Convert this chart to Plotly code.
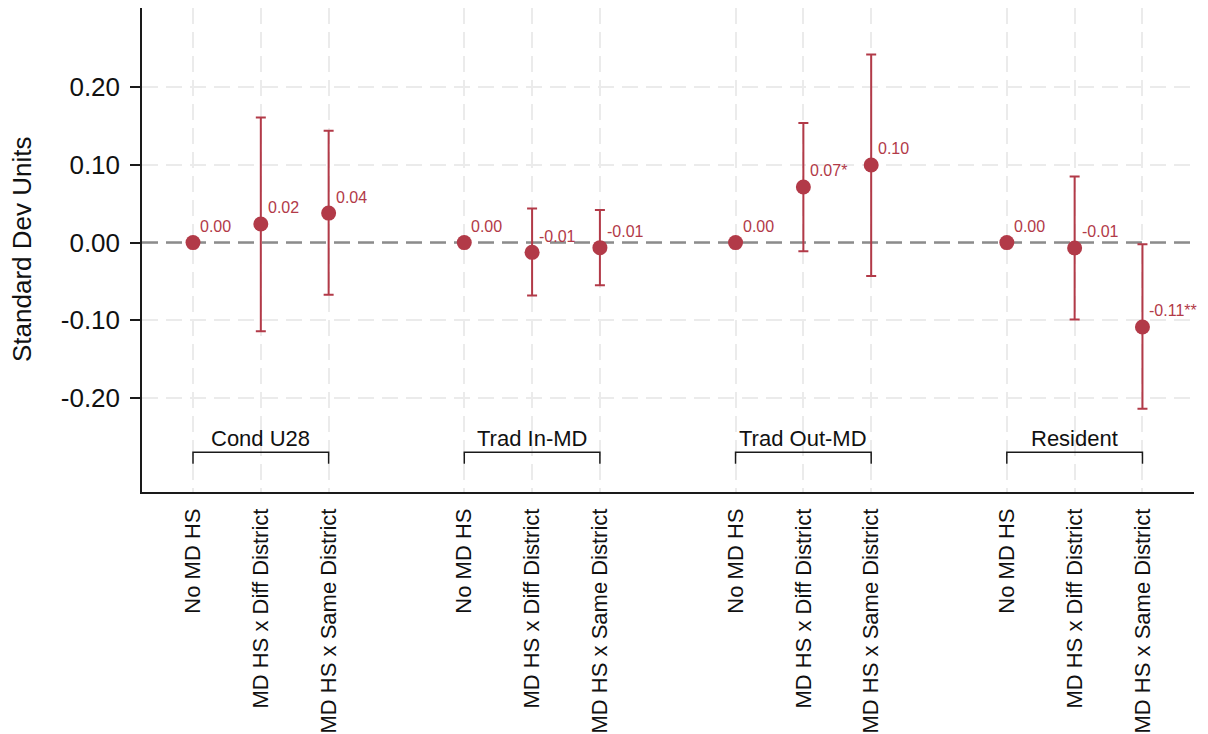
import plotly.graph_objects as go

# Coefficient estimates with 95% confidence intervals, by sample and high-school category
groups = ["Cond U28", "Trad In-MD", "Trad Out-MD", "Resident"]
categories = ["No MD HS", "MD HS x Diff District", "MD HS x Same District"]
x_pos = [1, 2, 3, 5, 6, 7, 9, 10, 11, 13, 14, 15]
estimates = [0.0, 0.024, 0.038, 0.0, -0.0125, -0.0065, 0.0, 0.0716, 0.100, 0.0, -0.0069, -0.1086]
ci_low = [0.0, -0.114, -0.067, 0.0, -0.068, -0.055, 0.0, -0.011, -0.043, 0.0, -0.099, -0.214]
ci_high = [0.0, 0.161, 0.144, 0.0, 0.044, 0.042, 0.0, 0.154, 0.242, 0.0, 0.085, -0.002]
value_labels = ["0.00", "0.02", "0.04", "0.00", "-0.01", "-0.01",
                "0.00", "0.07*", "0.10", "0.00", "-0.01", "-0.11**"]
y_ticks = [-0.2, -0.1, 0.0, 0.1, 0.2]
y_tick_labels = ["-0.20", "-0.10", "0.00", "0.10", "0.20"]

X_RANGE = [0.248, 15.76]
Y_RANGE = [-0.321, 0.302]

RED = "#b23a48"
FONT = "Liberation Sans, Arial, sans-serif"

tick_text = categories * len(groups)

fig = go.Figure()

# dashed reference line at zero
fig.add_trace(go.Scatter(
    x=X_RANGE, y=[0, 0], mode="lines",
    line=dict(color="#8c8c8c", width=2.5, dash="16px,8px"),
    showlegend=False, hoverinfo="skip",
))

fig.add_trace(go.Scatter(
    x=x_pos,
    y=estimates,
    mode="markers",
    marker=dict(color=RED, size=15),
    error_y=dict(
        type="data",
        symmetric=False,
        array=[h - e for h, e in zip(ci_high, estimates)],
        arrayminus=[e - l for e, l in zip(estimates, ci_low)],
        color=RED,
        thickness=2,
        width=5,
    ),
    showlegend=False,
    hoverinfo="skip",
))

annotations = []
# value labels next to each point
for x, y, t in zip(x_pos, estimates, value_labels):
    annotations.append(dict(
        x=x, y=y, text=t, showarrow=False,
        xanchor="left", yanchor="middle", xshift=5, yshift=16,
        font=dict(family=FONT, size=16, color=RED),
    ))

shapes = []
# group brackets beneath the points
n = len(categories)
for i, g in enumerate(groups):
    xs = x_pos[i * n:(i + 1) * n]
    x0, x1 = xs[0], xs[-1]
    shapes.append(dict(
        type="path",
        path=f"M {x0} -0.2846 L {x0} -0.2699 L {x1} -0.2699 L {x1} -0.2846",
        xref="x", yref="y",
        line=dict(color="#1a1a1a", width=1.5), layer="above",
    ))
    annotations.append(dict(
        x=(x0 + x1) / 2, y=-0.2515, text=g, showarrow=False,
        xanchor="center", yanchor="middle",
        font=dict(family=FONT, size=22, color="#111111"),
    ))

# y-axis title
annotations.append(dict(
    xref="paper", yref="paper", x=0, y=0.5, xshift=-120,
    text="Standard Dev Units", textangle=-90, showarrow=False,
    xanchor="center", yanchor="middle",
    font=dict(family=FONT, size=26, color="#111111"),
))

fig.update_layout(
    width=1208,
    height=734,
    margin=dict(l=142, r=14, t=8, b=242),
    paper_bgcolor="white",
    plot_bgcolor="white",
    font=dict(family=FONT, color="#111111"),
    shapes=shapes,
    annotations=annotations,
    xaxis=dict(
        range=X_RANGE,
        tickmode="array",
        tickvals=x_pos,
        ticktext=tick_text,
        tickangle=-90,
        tickfont=dict(family=FONT, size=22, color="#111111"),
        showgrid=True,
        gridcolor="#ebebeb",
        gridwidth=2,
        griddash="16px,8px",
        zeroline=False,
        showline=True,
        linecolor="#1a1a1a",
        linewidth=1.5,
        ticks="",
        ticklabelstandoff=6,
        automargin=False,
    ),
    yaxis=dict(
        range=Y_RANGE,
        tickmode="array",
        tickvals=y_ticks,
        ticktext=y_tick_labels,
        tickfont=dict(family=FONT, size=26, color="#111111"),
        showgrid=True,
        gridcolor="#ebebeb",
        gridwidth=2,
        griddash="16px,8px",
        zeroline=False,
        showline=True,
        linecolor="#1a1a1a",
        linewidth=1.5,
        ticks="outside",
        ticklen=10,
        tickwidth=1.5,
        tickcolor="#1a1a1a",
        ticklabelstandoff=5,
        automargin=False,
    ),
)

fig.write_html("out.html")
